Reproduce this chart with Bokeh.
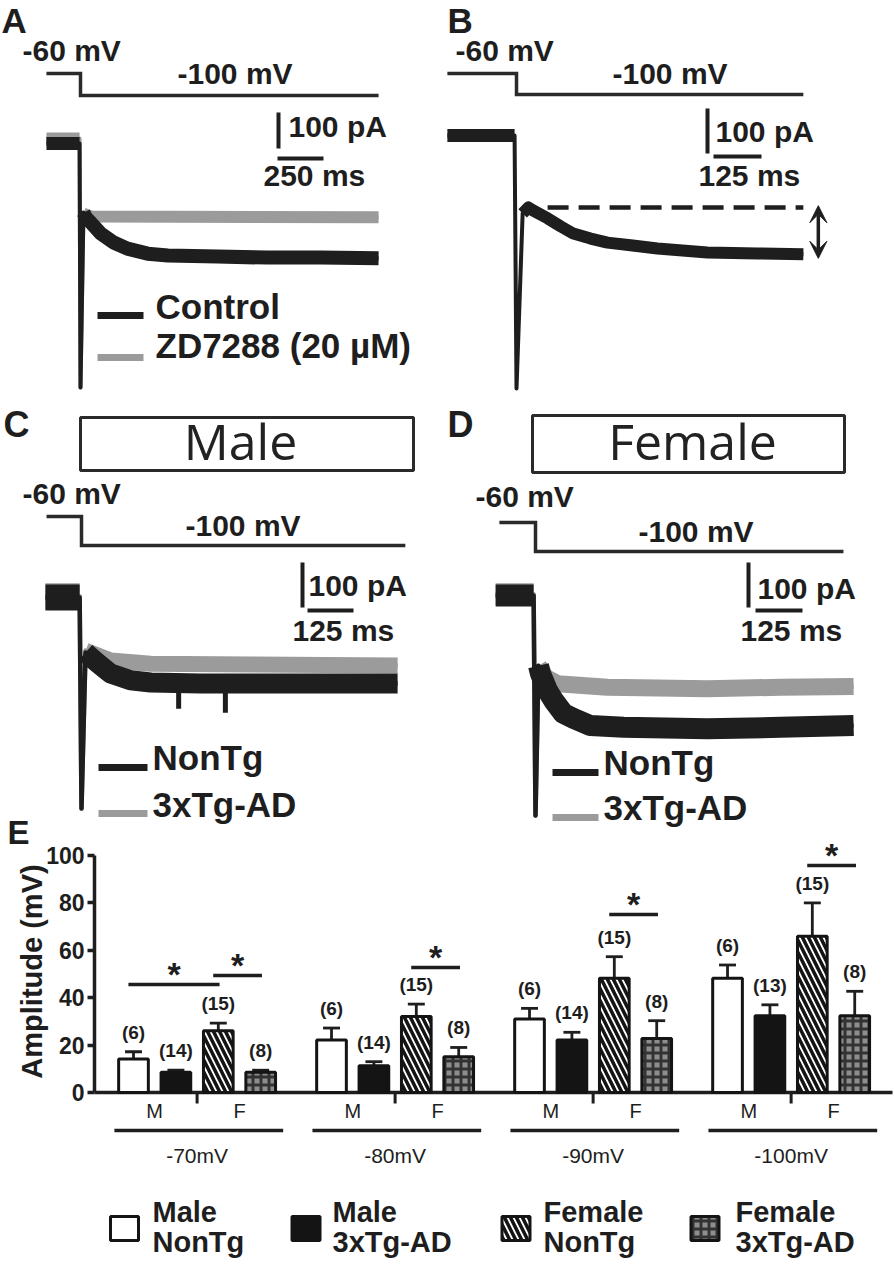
import math
from bokeh.plotting import figure
from bokeh.models import Range1d, LinearAxis, FixedTicker, Arrow, VeeHead
from bokeh.embed import file_html
from bokeh.resources import INLINE
from bokeh.core.properties import value

INK = "#1e1e1e"
GRAY = "#9b9b9b"
FONT = "Liberation Sans"
KL, KO = 0.40, 0.44     # baseline correction (fraction of font size)
W, H = 894, 1266

# ------------------------------------------------------------------ data
V_HOLD, V_STEP = -60, -100          # mV, command protocol

# Panel A : time (ms) / current (pA)
A_cmd_t = [-185, 0, 0, 1620]
A_ctrl_t = [-185, -5, 0, 16, 30, 55, 110, 180, 255, 365, 475, 745, 1015, 1305, 1620]
A_ctrl_i = [0, 0, -678, -192, -206, -219, -250, -275, -292, -306, -311, -314, -317, -317, -319]
A_zd_t = [-185, -5, 0, 16, 60, 1620]
A_zd_i = [14, 14, -678, -195, -203, -205]

# Panel B
B_cmd_t = [-180, 0, 0, 747]
B_t = [-180, -5, 0, 16, 31, 44, 81, 115, 148, 193, 237, 297, 367, 497, 628, 747]
B_i = [0, 0, -562, -173, -160, -167, -184, -202, -218, -229, -238, -244, -251, -260, -262, -264]
B_peak_i = -160
B_peak_span = [81, 747]
B_arrow_t = 786
B_arrow_i = [-156, -273]

# Panel C (male)
C_cmd_t = [-95, 0, 0, 880]
C_wt_t = [-98, -5, 0, 11, 30, 52, 79, 133, 188, 323, 595, 859]
C_wt_i = [0, 0, -469, -122, -136, -151, -169, -184, -189, -191, -191, -191]
C_tg_t = [-98, -5, 0, 11, 79, 188, 459, 859]
C_tg_i = [3, 3, -469, -118, -140, -147, -149, -151]
C_dip_t = [264, 391]
C_dip_i = [-247, -256]
C_dip_base = [-190, -191]

# Panel D (female)
D_cmd_t = [-96, 0, 0, 819]
D_wt_t = [-106, -5, 0, 8, 13, 32, 48, 74, 101, 146, 234, 457, 652, 846]
D_wt_i = [0, 0, -489, -156, -173, -211, -233, -262, -273, -289, -293, -296, -293, -289]
D_tg_t = [-106, -5, 0, 8, 27, 59, 191, 457, 652, 846]
D_tg_i = [3, 3, -489, -156, -182, -196, -204, -207, -204, -202]

# Panel E : amplitude (mV)
groups = ["-70mV", "-80mV", "-90mV", "-100mV"]
series = ["Male NonTg", "Male 3xTg-AD", "Female NonTg", "Female 3xTg-AD"]
male_nontg = [14.1, 22.1, 31.0, 48.2]
male_nontg_sem = [3.1, 5.1, 4.5, 5.6]
male_nontg_n = [6, 6, 6, 6]
male_tg = [8.5, 11.3, 22.1, 32.4]
male_tg_sem = [0.9, 1.7, 3.3, 4.6]
male_tg_n = [14, 14, 14, 13]
female_nontg = [26.1, 32.1, 48.2, 65.9]
female_nontg_sem = [3.2, 5.2, 9.1, 14.1]
female_nontg_n = [15, 15, 15, 15]
female_tg = [8.5, 15.1, 22.8, 32.4]
female_tg_sem = [0.9, 3.9, 7.5, 10.3]
female_tg_n = [8, 8, 8, 8]
sex_labels = ["M", "F"]
y_ticks = [0, 20, 40, 60, 80, 100]
# significance brackets: group, from series, to series, level (mV)
sig_group = [0, 0, 1, 2, 3]
sig_from = [0, 2, 2, 2, 2]
sig_to = [2, 3, 3, 3, 3]
sig_y = [45.6, 49.4, 52.7, 75.1, 95.8]

# ------------------------------------------------------------------ one page-sized figure
# default ranges = page pixels (used only to place annotations); every panel has its own data ranges
p = figure(width=W, height=H, x_range=Range1d(0, W), y_range=Range1d(H, 0),
           output_backend="svg", toolbar_location=None,
           x_axis_location=None, y_axis_location=None, min_border=0,
           background_fill_color="white", border_fill_color="white")
p.grid.visible = False
p.outline_line_color = None

xranges, yranges, geo = {}, {}, {}


def panel(name, sx, sy, tx, iy, vy60, kv):
    """sx px/ms, sy px/pA, tx page-x of t=0, iy page-y of 0 pA, vy60 page-y of -60 mV, kv px/mV"""
    xranges[name + "_t"] = Range1d((0 - tx) / sx, (W - tx) / sx)
    yranges[name + "_i"] = Range1d((iy - H) / sy, iy / sy)
    yranges[name + "_v"] = Range1d(-60 + (vy60 - H) / kv, -60 + vy60 / kv)
    geo[name] = dict(x_range_name=name + "_t", y_range_name=name + "_i",
                     v=name + "_v", T=lambda px: (px - tx) / sx, I=lambda py: (iy - py) / sy)


panel("A", 0.184, 0.36, 80, 143, 73, 0.55)
panel("B", 0.384, 0.45, 516, 135, 73, 0.525)
panel("C", 0.368, 0.45, 81, 597, 516, 0.725)
panel("D", 0.376, 0.45, 535, 595, 522, 0.725)

GSTEP = 4.67            # group spacing in bar units
BW = 0.7
PXU, PYU = 42.4, 2.37   # px per x unit / per mV
EX0, EY0 = 133, 1092    # page position of first bar centre / zero line
def EX(px): return (px - EX0) / PXU
def EY(py): return (EY0 - py) / PYU
xranges["E_x"] = Range1d(EX(0), EX(W))
yranges["E_y"] = Range1d(EY(H), EY(0))
p.extra_x_ranges = xranges
p.extra_y_ranges = yranges
E = dict(x_range_name="E_x", y_range_name="E_y")


def rn(g):
    return dict(x_range_name=g["x_range_name"], y_range_name=g["y_range_name"])


def txt(px, py, text, size, style="bold", font=FONT, align="left", color=INK):
    k = KO if font == "Open Sans" else KL
    p.text(x=[px], y=[py - k * size], text=[text], text_font=value(font),
           text_font_size=f"{size}px", text_font_style=style, text_align=align,
           text_baseline="alphabetic", text_color=color)


def command(g, t):
    p.line(t, [V_HOLD, V_HOLD, V_STEP, V_STEP], x_range_name=g["x_range_name"],
           y_range_name=g["v"], line_color="#2a2a2a", line_width=3.5, line_join="miter")


def trace(g, t, i, color, base_w, band_w, spike_w):
    p.line(t[:2], i[:2], line_color=color, line_width=base_w, line_join="round", **rn(g))
    p.line(t, i, line_color=color, line_width=spike_w, line_join="round", **rn(g))
    p.line(t[3:], i[3:], line_color=color, line_width=band_w, line_join="round", **rn(g))


def scalebars(g, vx, vy_bottom, hx, hy, ms):
    x = g["T"](vx)
    y0 = g["I"](vy_bottom)
    p.segment(x0=[x], y0=[y0], x1=[x], y1=[y0 + 100], line_color=INK, line_width=4, **rn(g))
    x0 = g["T"](hx)
    yh = g["I"](hy)
    p.segment(x0=[x0], y0=[yh], x1=[x0 + ms], y1=[yh], line_color=INK, line_width=4, **rn(g))


def legend_line(g, x0, x1, y, color):
    p.segment(x0=[g["T"](x0)], y0=[g["I"](y)], x1=[g["T"](x1)], y1=[g["I"](y)],
              line_color=color, line_width=7, **rn(g))


def sex_box(l, r, t, b):
    p.quad(left=[l], right=[r], top=[t], bottom=[b], fill_alpha=0,
           line_color="#2a2a2a", line_width=3)


# ------------------------------------------------------------------ panel A
gA = geo["A"]
command(gA, A_cmd_t)
trace(gA, A_zd_t, A_zd_i, GRAY, 12, 12, 4)
trace(gA, A_ctrl_t, A_ctrl_i, INK, 13, 14, 4)
scalebars(gA, 278, 148, 277, 158, 250)
legend_line(gA, 97, 143, 315, INK)
legend_line(gA, 97, 143, 357, GRAY)
txt(1, 34, "A", 35)
txt(22, 62, "-60 mV", 30)
txt(177, 85, "-100 mV", 30)
txt(288, 138, "100 pA", 30)
txt(263, 187, "250 ms", 30)
txt(155, 320, "Control", 35)
txt(155, 359, "ZD7288 (20 \u00b5M)", 35)

# ------------------------------------------------------------------ panel B
gB = geo["B"]
command(gB, B_cmd_t)
trace(gB, B_t, B_i, INK, 13, 12, 4)
p.segment(x0=[B_peak_span[0]], y0=[B_peak_i], x1=[B_peak_span[1]], y1=[B_peak_i],
          line_color=INK, line_width=4.5, line_dash="21 10", **rn(gB))
p.add_layout(Arrow(x_start=B_arrow_t, y_start=B_arrow_i[1], x_end=B_arrow_t, y_end=B_arrow_i[0],
                   line_color=INK, line_width=3.5, **rn(gB),
                   start=VeeHead(size=17, fill_color=INK, line_color=INK),
                   end=VeeHead(size=17, fill_color=INK, line_color=INK)))
scalebars(gB, 707, 153, 713, 156, 125)
txt(447, 34, "B", 35)
txt(455, 62, "-60 mV", 30)
txt(612, 85, "-100 mV", 30)
txt(715, 143, "100 pA", 30)
txt(698, 187, "125 ms", 30)

# ------------------------------------------------------------------ panel C
gC = geo["C"]
command(gC, C_cmd_t)
trace(gC, C_tg_t, C_tg_i, GRAY, 26, 16, 4.5)
trace(gC, C_wt_t, C_wt_i, INK, 26, 20, 4.5)
p.segment(x0=C_dip_t, y0=C_dip_base, x1=C_dip_t, y1=C_dip_i, line_color=INK, line_width=5, **rn(gC))
scalebars(gC, 302, 607, 307, 610, 125)
legend_line(gC, 98, 147, 767, INK)
legend_line(gC, 98, 147, 813, GRAY)
sex_box(80, 413, 417, 470)
txt(3, 438, "C", 36)
txt(240, 462, "Male", 50, style="normal", font="Open Sans", align="center", color="#222222")
txt(22, 505, "-60 mV", 30)
txt(185, 537, "-100 mV", 30)
txt(308, 597, "100 pA", 30)
txt(292, 642, "125 ms", 30)
txt(152, 771, "NonTg", 35)
txt(152, 818, "3xTg-AD", 35)

# ------------------------------------------------------------------ panel D
gD = geo["D"]
command(gD, D_cmd_t)
trace(gD, D_tg_t, D_tg_i, GRAY, 22, 17, 4.5)
trace(gD, D_wt_t, D_wt_i, INK, 22, 21, 4.5)
scalebars(gD, 748, 607, 755, 610, 125)
legend_line(gD, 552, 598, 772, INK)
legend_line(gD, 552, 598, 817, GRAY)
sex_box(532, 844, 415, 472)
txt(447, 438, "D", 36)
txt(692, 462, "Female", 50, style="normal", font="Open Sans", align="center", color="#222222")
txt(475, 508, "-60 mV", 30)
txt(638, 543, "-100 mV", 30)
txt(757, 600, "100 pA", 30)
txt(740, 642, "125 ms", 30)
txt(603, 776, "NonTg", 35)
txt(603, 821, "3xTg-AD", 35)

# ------------------------------------------------------------------ panel E
txt(7, 845, "E", 33)
yax = LinearAxis(y_range_name="E_y", fixed_location=94, bounds=(0, 100),
                 ticker=FixedTicker(ticks=y_ticks))
yax.axis_line_width = 3.5
yax.axis_line_color = INK
yax.major_tick_line_width = 3.5
yax.major_tick_line_color = INK
yax.major_tick_out = 7
yax.major_tick_in = 0
yax.minor_tick_line_color = None
yax.major_label_text_font = FONT
yax.major_label_text_font_size = "23px"
yax.major_label_text_font_style = "bold"
yax.major_label_text_color = INK
yax.major_label_standoff = 3
p.add_layout(yax, "left")
p.text(x=[31], y=[971], text=["Amplitude (mV)"], angle=math.pi / 2, text_font=value(FONT),
       text_font_size="29px", text_font_style="bold", text_align="center",
       text_baseline="alphabetic", text_color=INK)

# x axis line at 0
p.segment(x0=[EX(94)], y0=[0], x1=[EX(892)], y1=[0], line_color=INK, line_width=3.5, **E)

styles = [
    dict(fill_color="white"),
    dict(fill_color="#141414"),
    dict(fill_color="white", hatch_pattern="\\", hatch_color="#141414", hatch_scale=12, hatch_weight=3.5),
    dict(fill_color="#8e8e8e", hatch_pattern="cross", hatch_color="#333333",
         hatch_scale=8, hatch_weight=3),
]
vals = [male_nontg, male_tg, female_nontg, female_tg]
sems = [male_nontg_sem, male_tg_sem, female_nontg_sem, female_tg_sem]
ns = [male_nontg_n, male_tg_n, female_nontg_n, female_tg_n]

for si in range(4):
    xs = [gi * GSTEP + si for gi in range(len(groups))]
    tops = vals[si]
    ups = [v + e for v, e in zip(vals[si], sems[si])]
    p.segment(x0=xs, y0=tops, x1=xs, y1=ups, line_color=INK, line_width=2.8, **E)
    p.segment(x0=[x - 0.2 for x in xs], y0=ups, x1=[x + 0.2 for x in xs], y1=ups,
              line_color=INK, line_width=2.8, **E)
    p.vbar(x=xs, top=tops, bottom=0, width=BW, line_color="#141414", line_width=3,
           **styles[si], **E)
    p.text(x=xs, y=ups, text=[f"({n})" for n in ns[si]], text_font=value(FONT),
           text_font_style="bold", text_font_size="19px", text_align="center",
           text_baseline="alphabetic", y_offset=-12 - KL * 19, text_color=INK, **E)

# significance
sx0 = [g * GSTEP + a - 0.12 for g, a in zip(sig_group, sig_from)]
sx1 = [g * GSTEP + b + 0.03 for g, b in zip(sig_group, sig_to)]
p.segment(x0=sx0, y0=sig_y, x1=sx1, y1=sig_y, line_color=INK, line_width=3.5, **E)
p.text(x=[(a + b) / 2 for a, b in zip(sx0, sx1)], y=sig_y, text=["*"] * len(sig_y),
       text_font=value(FONT), text_font_style="bold", text_font_size="34px",
       text_align="center", text_baseline="alphabetic", y_offset=3 - KL * 34,
       text_color=INK, **E)

# category axis decorations
gc = [g * GSTEP + 1.5 for g in range(len(groups))]
p.segment(x0=gc, y0=[0] * 4, x1=gc, y1=[EY(1103)] * 4, line_color=INK, line_width=3, **E)
for k, s in enumerate(sex_labels):
    p.text(x=[g * GSTEP + 0.5 + 2 * k for g in range(len(groups))], y=[EY(1118)] * 4,
           text=[s] * 4, text_font=value(FONT), text_font_size="20px",
           text_align="center", text_baseline="alphabetic", y_offset=-KL * 20,
           text_color=INK, **E)
p.segment(x0=[g * GSTEP - 0.45 for g in range(4)], y0=[EY(1130)] * 4,
          x1=[g * GSTEP + 3.53 for g in range(4)], y1=[EY(1130)] * 4,
          line_color=INK, line_width=3.5, **E)
p.text(x=gc, y=[EY(1163)] * 4, text=groups, text_font=value(FONT), text_font_size="21px",
       text_align="center", text_baseline="alphabetic", y_offset=-KL * 21, text_color=INK, **E)

# legend
leg_sq = [124, 305.5, 515.5, 704.5]
leg_tx = [152, 332, 543, 735]
for si in range(4):
    p.rect(x=[EX(leg_sq[si])], y=[EY(1228)], width=28, height=24,
           width_units="screen", height_units="screen",
           line_color="#141414", line_width=3, **styles[si], **E)
    first, second = series[si].split(" ")
    p.text(x=[EX(leg_tx[si])] * 2, y=[EY(1223), EY(1253)], text=[first, second],
           text_font=value(FONT), text_font_style="bold", text_font_size="29px",
           text_align="left", text_baseline="alphabetic", y_offset=-KL * 29,
           text_color=INK, **E)

open("out.html", "w").write(file_html(p, INLINE))
